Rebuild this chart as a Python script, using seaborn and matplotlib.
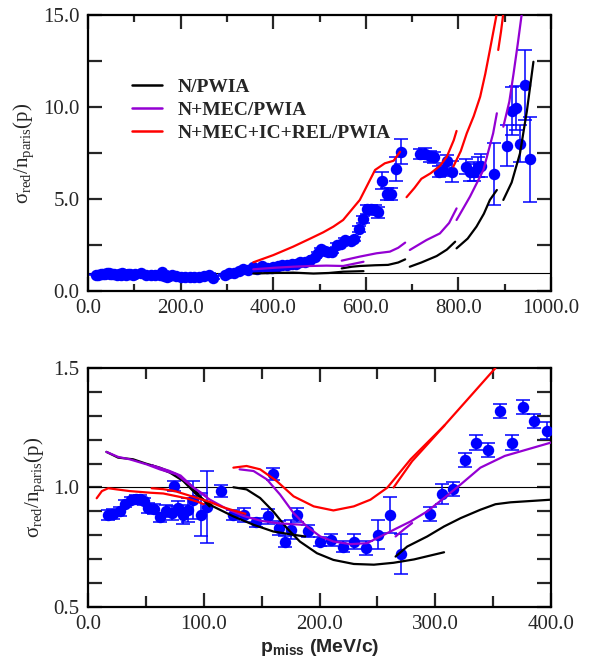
import numpy as np
import pandas as pd
import matplotlib
matplotlib.use("Agg")
import matplotlib.pyplot as plt
from matplotlib.lines import Line2D
from matplotlib.ticker import MultipleLocator, FormatStrFormatter
import seaborn as sns

# ---------------- measured reduced cross sections ----------------
# low missing momentum (used in both panels)
p_low = [17.3, 21.7, 27.4, 32.3, 37.0, 41.3, 44.8, 48.5, 52.0, 56.9, 62.1, 67.3,
         72.2, 74.5, 78.0, 82.3, 86.6, 91.0, 97.3, 102.5, 115.0, 125.0, 135.0,
         145.0, 155.4, 160.0, 165.0, 170.4, 175.3, 180.5, 189.7, 200.0, 210.0,
         220.0, 230.0, 240.0, 250.7, 260.8, 270.0, 295.5, 305.6, 315.7, 325.8,
         335.6, 345.7, 356.0, 366.0, 376.0, 385.6, 396.5]
r_low = [0.886, 0.890, 0.900, 0.933, 0.947, 0.952, 0.952, 0.942, 0.914, 0.910,
         0.875, 0.900, 0.893, 1.006, 0.914, 0.886, 0.907, 0.949, 0.886, 0.917,
         0.985, 0.886, 0.886, 0.854, 0.879, 1.055, 0.830, 0.774, 0.823, 0.886,
         0.816, 0.774, 0.781, 0.753, 0.774, 0.746, 0.802, 0.886, 0.722, 0.890,
         0.973, 0.994, 1.115, 1.188, 1.157, 1.319, 1.188, 1.336, 1.277, 1.237]
e_low = [0.020, 0.020, 0.020, 0.015, 0.015, 0.015, 0.015, 0.015, 0.020, 0.020,
         0.020, 0.025, 0.030, 0.020, 0.030, 0.040, 0.050, 0.080, 0.090, 0.150,
         0.025, 0.020, 0.030, 0.020, 0.030, 0.025, 0.030, 0.025, 0.040, 0.030,
         0.025, 0.020, 0.025, 0.025, 0.030, 0.030, 0.060, 0.075, 0.085, 0.030,
         0.040, 0.030, 0.030, 0.030, 0.030, 0.030, 0.030, 0.030, 0.030, 0.035]

# high missing momentum (upper panel only)
p_high = [400, 410, 420, 430, 440, 450, 458, 468, 480, 490, 497, 504, 511, 518,
          527, 538, 546, 554, 567, 575, 586, 594, 603, 611, 619, 626, 635, 645,
          655, 666, 676, 717, 728, 738, 747, 757, 767, 776, 786, 816, 825, 834,
          843, 848, 876, 904, 915, 924, 934, 944, 955]
r_high = [1.32, 1.35, 1.40, 1.42, 1.48, 1.45, 1.55, 1.60, 1.69, 1.85, 2.05, 2.27,
          2.15, 2.13, 2.13, 2.50, 2.55, 2.78, 2.73, 2.82, 3.36, 3.90, 4.45, 4.45,
          4.40, 4.27, 6.00, 5.27, 5.27, 6.64, 7.58, 7.45, 7.45, 7.33, 7.27, 6.49,
          6.55, 7.05, 6.49, 6.76, 6.45, 6.49, 6.73, 6.82, 6.36, 7.90, 9.80, 9.95,
          8.00, 11.20, 7.15]
e_high = [0.05, 0.05, 0.05, 0.05, 0.05, 0.05, 0.05, 0.05, 0.05, 0.05, 0.08, 0.08,
          0.08, 0.08, 0.08, 0.10, 0.10, 0.12, 0.12, 0.12, 0.15, 0.18, 0.25, 0.25,
          0.25, 0.30, 0.45, 0.35, 0.35, 0.65, 0.70, 0.25, 0.30, 0.30, 0.30, 0.30,
          0.30, 0.35, 0.55, 0.40, 0.45, 0.50, 0.55, 0.60, 1.70, 1.10, 1.30, 1.20,
          1.00, 1.90, 2.30]

# ---------------- model curves, one list of (p, ratio) pieces per model ----------------
top_n_pwia = [
    ([357, 400, 443, 487, 520, 551, 595], [0.95, 0.98, 1.00, 0.95, 0.98, 1.05, 1.08]),
    ([548, 570, 587, 620, 648, 670, 685], [1.23, 1.32, 1.36, 1.40, 1.42, 1.55, 1.72]),
    ([695, 720, 753, 775, 793], [1.32, 1.55, 1.90, 2.25, 2.68]),
    ([796, 820, 839, 855, 868, 883], [2.32, 2.85, 3.50, 4.20, 4.95, 5.49]),
    ([897, 915, 933, 948, 962], [4.95, 5.90, 7.48, 9.80, 12.46]),
]
top_n_mec_pwia = [
    ([357, 400, 443, 480, 515, 551, 595], [1.18, 1.26, 1.32, 1.36, 1.38, 1.36, 1.59]),
    ([548, 587, 623, 652, 670, 685], [1.65, 1.87, 2.05, 2.14, 2.35, 2.63]),
    ([695, 731, 760, 780, 796], [2.23, 2.77, 3.13, 3.70, 4.49]),
    ([796, 825, 854, 875, 883], [3.86, 5.13, 6.58, 8.57, 9.66]),
    ([897, 910, 919, 928, 937], [8.93, 10.30, 11.80, 13.40, 15.10]),
]
top_n_mec_ic_rel_pwia = [
    ([357, 400, 443, 480, 508, 530, 551, 587, 620, 641, 660, 674],
     [1.56, 1.95, 2.41, 2.85, 3.19, 3.50, 3.86, 4.95, 6.58, 6.94, 7.08, 7.57]),
    ([688, 705, 720, 740, 760, 775, 790, 796], [5.10, 5.60, 6.10, 6.40, 6.80, 7.30, 8.20, 8.70]),
    ([789, 805, 818, 833, 847, 858, 868, 883], [6.76, 7.60, 8.57, 9.50, 10.56, 11.80, 13.10, 15.10]),
    ([886, 892, 897], [13.10, 14.10, 15.10]),
]

bot_n_pwia = [
    ([15.9, 26, 39, 50, 62, 76.5, 88, 96.7, 105],
     [1.149, 1.125, 1.118, 1.100, 1.083, 1.055, 1.013, 0.963, 0.921]),
    ([55, 70.8, 82.3, 93.9, 108, 125.6, 143, 160, 177.6, 187.7],
     [1.093, 1.062, 1.027, 0.970, 0.921, 0.879, 0.844, 0.816, 0.802, 0.795]),
    ([125.6, 137, 148.7, 160, 171.8, 183, 197.8, 212, 229.6, 247, 264, 281.6, 307.6],
     [1.001, 0.992, 0.956, 0.900, 0.830, 0.774, 0.725, 0.697, 0.680, 0.677, 0.685, 0.699, 0.729]),
    ([265.7, 275.8, 293, 307.6, 322, 339, 352, 365, 400],
     [0.711, 0.753, 0.795, 0.837, 0.872, 0.907, 0.930, 0.938, 0.949]),
]
bot_n_mec_pwia = [
    ([15.9, 26, 36, 50.5, 62, 76.5, 91, 102.5],
     [1.149, 1.128, 1.118, 1.097, 1.076, 1.055, 1.000, 0.963]),
    ([55, 70, 80, 91, 105, 120, 135, 150, 165, 185],
     [1.093, 1.070, 1.050, 1.000, 0.950, 0.910, 0.880, 0.860, 0.850, 0.844]),
    ([131, 143, 154.5, 166, 177.6, 189, 200.7, 212, 226.7, 241, 252.7, 267, 278.7,
      293, 307.6, 322, 339, 360, 380, 400],
     [1.076, 1.069, 1.034, 0.970, 0.893, 0.837, 0.795, 0.774, 0.763, 0.767, 0.795,
      0.830, 0.858, 0.900, 0.956, 1.013, 1.083, 1.132, 1.160, 1.188]),
    ([265.7, 273, 280], [0.795, 0.825, 0.851]),
]
bot_n_mec_ic_rel_pwia = [
    ([7.5, 12, 17.5, 25, 36, 54, 65, 75, 85, 95, 100],
     [0.955, 0.985, 0.997, 0.992, 0.985, 0.978, 0.975, 0.965, 0.955, 0.940, 0.930]),
    ([55, 65, 75, 85, 95, 105, 115, 125, 136],
     [0.997, 0.993, 0.985, 0.970, 0.955, 0.940, 0.920, 0.905, 0.890]),
    ([125.6, 137, 148.7, 163, 177.6, 195, 212, 229.6, 244, 258.5, 278.7, 307.6, 330, 352],
     [1.083, 1.090, 1.076, 1.027, 0.963, 0.921, 0.904, 0.921, 0.949, 0.999, 1.118,
      1.258, 1.380, 1.500]),
    ([264, 280, 295, 308], [1.000, 1.110, 1.190, 1.260]),
]

model_names = ["N/PWIA", "N+MEC/PWIA", "N+MEC+IC+REL/PWIA"]
model_colors = ["black", "#9400d3", "red"]

# ---------------- style ----------------
sns.set_style("ticks")
plt.rcParams.update({
    "font.family": ["Liberation Serif", "DejaVu Serif"],
    "mathtext.fontset": "custom",
    "mathtext.rm": "Liberation Serif",
    "mathtext.it": "Liberation Serif",
    "mathtext.bf": "Liberation Sans:bold",
    "axes.linewidth": 1.6,
    "axes.edgecolor": "black",
})

fig = plt.figure(figsize=(5.93, 6.62), dpi=100)
ax_top = fig.add_axes([0.1484, 0.5604, 0.7808, 0.4169])
ax_bot = fig.add_axes([0.1484, 0.0831, 0.7808, 0.3610])


def draw_points(ax, p, r, e):
    ax.errorbar(p, r, yerr=e, fmt="none", ecolor="blue", elinewidth=1.1,
                capsize=5, capthick=1.1, zorder=2)
    sns.scatterplot(x=p, y=r, ax=ax, color="blue", s=68, linewidth=0,
                    legend=False, zorder=3)


def draw_model(ax, pieces, color):
    frames = [pd.DataFrame({"p": x, "r": y, "piece": k}) for k, (x, y) in enumerate(pieces)]
    df = pd.concat(frames, ignore_index=True)
    sns.lineplot(data=df, x="p", y="r", units="piece", estimator=None, sort=False,
                 ax=ax, color=color, linewidth=1.6, legend=False, zorder=4)


def style_axes(ax, xmax, ymin, ymax, xmaj, xmin_step, ymaj, ymin_step, xminor_len):
    ax.set_xlim(0, xmax)
    ax.set_ylim(ymin, ymax)
    ax.axhline(1.0, color="black", linewidth=0.8, zorder=1)
    ax.xaxis.set_major_locator(MultipleLocator(xmaj))
    ax.xaxis.set_minor_locator(MultipleLocator(xmin_step))
    ax.yaxis.set_major_locator(MultipleLocator(ymaj))
    ax.yaxis.set_minor_locator(MultipleLocator(ymin_step))
    ax.xaxis.set_major_formatter(FormatStrFormatter("%.1f"))
    ax.yaxis.set_major_formatter(FormatStrFormatter("%.1f"))
    ax.tick_params(which="both", direction="in", top=True, right=True,
                   width=1.6, labelsize=15, pad=6)
    ax.tick_params(which="major", length=10)
    ax.tick_params(axis="x", which="minor", length=xminor_len)
    ax.tick_params(axis="y", which="minor", length=10)
    for s in ax.spines.values():
        s.set_linewidth(1.6)
    ax.set_xlabel("")
    ax.set_ylabel(r"$\mathrm{\sigma_{red}/n_{paris}(p)}$", fontsize=15, labelpad=5)


# upper panel: full missing-momentum range
draw_points(ax_top, p_low + p_high, r_low + r_high, e_low + e_high)
for pieces, c in zip([top_n_pwia, top_n_mec_pwia, top_n_mec_ic_rel_pwia], model_colors):
    draw_model(ax_top, pieces, c)
style_axes(ax_top, 1000, 0, 15, 200, 100, 5, 2.5, 5)

handles = [Line2D([], [], color=c, linewidth=1.8) for c in model_colors]
ax_top.legend(handles, model_names, loc="upper left", bbox_to_anchor=(0.095, 0.77),
              frameon=False, prop={"family": "Liberation Serif", "weight": "bold", "size": 14},
              handlelength=1.55, handletextpad=0.8, labelspacing=0.27,
              borderpad=0, borderaxespad=0)

# lower panel: zoom on p_miss < 400 MeV/c
draw_points(ax_bot, p_low, r_low, e_low)
for pieces, c in zip([bot_n_pwia, bot_n_mec_pwia, bot_n_mec_ic_rel_pwia], model_colors):
    draw_model(ax_bot, pieces, c)
style_axes(ax_bot, 400, 0.5, 1.5, 100, 50, 0.5, 0.1, 8)
ax_bot.set_xlabel(r"$\mathbf{p_{miss}}$ (MeV/c)", fontsize=14, fontweight="bold",
                  family="Liberation Sans", labelpad=2)

fig.savefig("out.png", dpi=100)
